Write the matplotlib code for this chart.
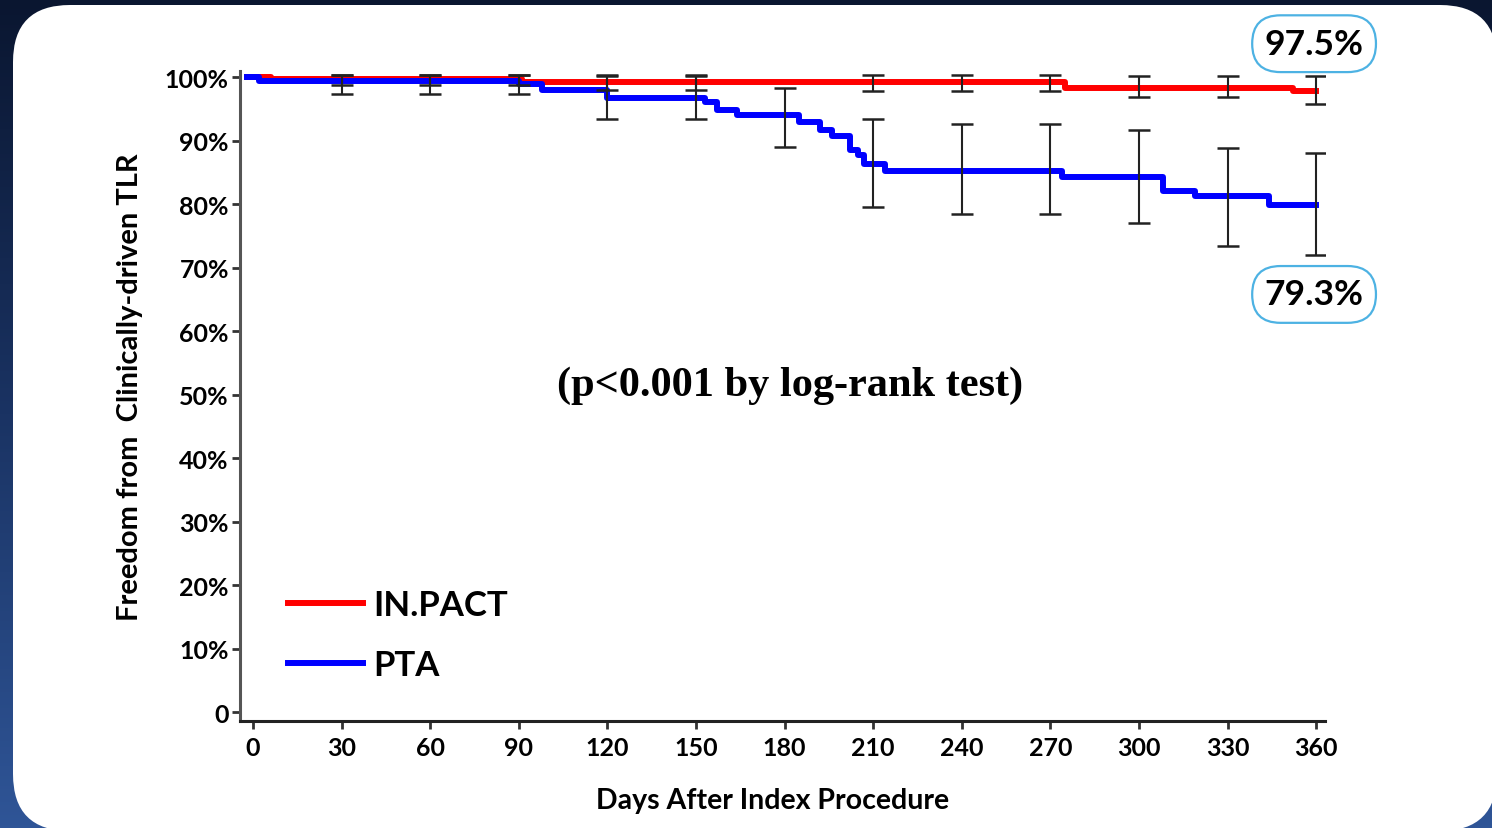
import numpy as np
import matplotlib
matplotlib.use("Agg")
import matplotlib.pyplot as plt
from matplotlib.patches import FancyBboxPatch
from matplotlib.colors import LinearSegmentedColormap
from matplotlib.lines import Line2D

plt.rcParams['font.family'] = ['Lato', 'DejaVu Sans']
plt.rcParams['font.weight'] = 'bold'

# Kaplan-Meier curves
red_days = [-2, 6, 91, 275, 352, 360]
red_surv = [100.0, 99.8, 99.2, 98.4, 97.9, 97.9]

blue_days = [-2, 2, 90, 98, 120, 153, 157, 164, 185, 192, 196, 202, 205, 207,
             214, 274, 308, 319, 344, 360]
blue_surv = [100.0, 99.4, 98.9, 98.0, 96.8, 96.1, 94.9, 94.0, 92.9, 91.7, 90.8,
             88.5, 87.7, 86.4, 85.2, 84.3, 82.1, 81.3, 79.9, 79.9]

# confidence intervals at 30-day marks
ci_days = [30, 60, 90, 120, 150, 180, 210, 240, 270, 300, 330, 360]
red_hi = [100.4, 100.4, 100.4, 100.3, 100.3, np.nan, 100.4, 100.4, 100.4, 100.2, 100.2, 100.2]
red_lo = [98.8, 98.8, 98.8, 98.0, 98.0, np.nan, 97.9, 97.9, 97.9, 96.9, 96.9, 95.8]
blue_hi = [100.4, 100.4, 100.4, 100.2, 100.2, 98.4, 93.4, 92.6, 92.6, 91.7, 88.9, 88.1]
blue_lo = [97.3, 97.3, 97.3, 93.4, 93.4, 89.0, 79.6, 78.4, 78.4, 77.0, 73.4, 72.0]

x_ticks = list(range(0, 361, 30))
y_ticks = list(range(0, 101, 10))
y_labels = ['0'] + [f'{v}%' for v in y_ticks[1:]]

final_red = '97.5%'
final_blue = '79.3%'

W, H = 1492, 829
fig = plt.figure(figsize=(W / 100, H / 100), dpi=100)

# background gradient + white rounded panel
bg = fig.add_axes([0, 0, 1, 1])
bg.set_xlim(0, W)
bg.set_ylim(0, H)
bg.axis('off')
cmap = LinearSegmentedColormap.from_list('bg', ['#2f5597', '#1a3363', '#0a1630'])
bg.imshow(np.linspace(0, 1, 256).reshape(-1, 1), cmap=cmap, aspect='auto',
          extent=[0, W, 0, H], origin='lower')
bg.add_patch(FancyBboxPatch((13, -3), 1484, 826,
                            boxstyle="round,pad=0,rounding_size=57",
                            fc='white', ec='none'))

ax = fig.add_axes([240 / W, 1 - 722 / H, 1085 / W, 650 / H])
ax.set_facecolor('none')

ax.step(red_days, red_surv, where='post', color='#ff0000', lw=4.3, zorder=3)
ax.step(blue_days, blue_surv, where='post', color='#0000ff', lw=4.3, zorder=3)

for hi, lo in [(red_hi, red_lo), (blue_hi, blue_lo)]:
    hi = np.array(hi)
    lo = np.array(lo)
    ax.errorbar(ci_days, (hi + lo) / 2, yerr=(hi - lo) / 2, fmt='none',
                ecolor='#222222', elinewidth=1.5, capsize=8, capthick=1.8, zorder=4)

ax.set_xlim(-4.4, 363)
ax.set_ylim(-1.4, 101)
ax.set_xticks(x_ticks)
ax.set_yticks(y_ticks)
ax.set_yticklabels(y_labels)
ax.tick_params(axis='both', labelsize=18, width=2, length=6, color='#333333')
ax.tick_params(axis='y', pad=2)
ax.tick_params(axis='x', pad=5)
for lab in ax.get_xticklabels() + ax.get_yticklabels():
    lab.set_fontweight('bold')

for s in ['top', 'right']:
    ax.spines[s].set_visible(False)
ax.spines['left'].set_linewidth(2.2)
ax.spines['left'].set_color('#555555')
ax.spines['bottom'].set_linewidth(2.2)
ax.spines['bottom'].set_color('#222222')

ax.set_ylabel('Freedom from  Clinically-driven TLR', fontsize=21, fontweight='bold',
              va='center')
ax.yaxis.set_label_coords(-0.1014, 0.515)
ax.set_xlabel('Days After Index Procedure', fontsize=20.5, fontweight='bold', va='center')
ax.xaxis.set_label_coords(0.491, -0.1215)

ax.text(181.8, 51.6, '(p<0.001 by log-rank test)', family='Liberation Serif',
        fontsize=30.5, fontweight='bold', ha='center', va='center')

box = dict(boxstyle='round,pad=0.35,rounding_size=0.8', fc='white', ec='#4db2e3', lw=1.6)
ax.text(359.3, 105.3, final_red, fontsize=25.5, fontweight='bold', ha='center',
        va='center', bbox=box, clip_on=False, zorder=5)
ax.text(359.3, 65.8, final_blue, fontsize=25.5, fontweight='bold', ha='center',
        va='center', bbox=box, clip_on=False, zorder=5)

handles = [Line2D([], [], color='#ff0000', lw=4.3), Line2D([], [], color='#0000ff', lw=4.3)]
ax.legend(handles, ['IN.PACT', 'PTA'], loc='upper left', bbox_to_anchor=(0.0442, 0.203),
          frameon=False, prop={'size': 25, 'weight': 'bold'}, handlelength=2.15,
          handletextpad=0.3, labelspacing=0.8, borderpad=0, borderaxespad=0)

fig.savefig('out.png', dpi=100)
